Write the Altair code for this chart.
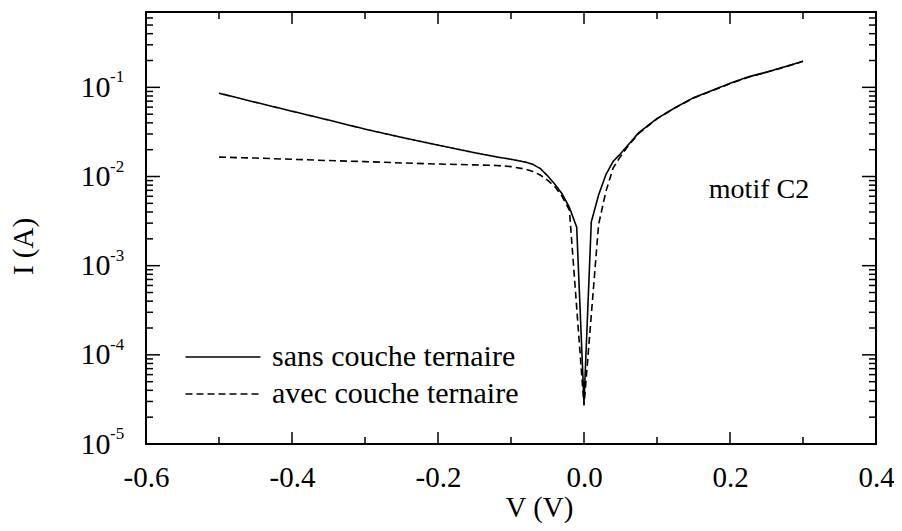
import altair as alt
import pandas as pd

# ---- data ----
V_sans = [-0.5, -0.45, -0.4, -0.35, -0.3, -0.25, -0.2, -0.15, -0.12, -0.1, -0.08, -0.07, -0.06,
          -0.05, -0.04, -0.03, -0.02, -0.01, 0.0,
          0.01, 0.02, 0.03, 0.04, 0.05, 0.06, 0.075, 0.1, 0.125, 0.15, 0.175, 0.2, 0.225, 0.25, 0.275, 0.3]
I_sans = [0.086, 0.068, 0.054, 0.043, 0.034, 0.0275, 0.0225, 0.0185, 0.0166, 0.0156, 0.0145, 0.0137, 0.0123,
          0.0102, 0.0082, 0.0064, 0.0045, 0.0027, 2.9e-5,
          0.0031, 0.0062, 0.0105, 0.0148, 0.018, 0.0224, 0.031, 0.0447, 0.0593, 0.0764, 0.092, 0.111, 0.131, 0.148, 0.170, 0.196]

V_avec = [-0.5, -0.45, -0.4, -0.35, -0.3, -0.25, -0.2, -0.15, -0.12, -0.1, -0.08, -0.07, -0.06,
          -0.05, -0.04, -0.03, -0.02, 0.0,
          0.02, 0.03, 0.04, 0.05, 0.06, 0.075, 0.1, 0.125, 0.15, 0.175, 0.2, 0.225, 0.25, 0.275, 0.3]
I_avec = [0.0165, 0.0161, 0.0156, 0.0151, 0.0147, 0.0142, 0.0138, 0.0135, 0.0133, 0.0129, 0.0121, 0.0114, 0.0104,
          0.0091, 0.0077, 0.0060, 0.0042, 2.7e-5,
          0.0029, 0.0068, 0.0125, 0.0168, 0.0218, 0.0305, 0.0443, 0.0590, 0.0760, 0.0915, 0.110, 0.130, 0.148, 0.169, 0.196]

series_names = ["sans couche ternaire", "avec couche ternaire"]

x_major = [-0.6, -0.4, -0.2, 0.0, 0.2, 0.4]
x_minor = [-0.5, -0.3, -0.1, 0.1, 0.3]
y_decades = [1e-5, 1e-4, 1e-3, 1e-2, 1e-1]
y_exponents = ["-5", "-4", "-3", "-2", "-1"]
y_minor = [m * d for d in [1e-5, 1e-4, 1e-3, 1e-2] for m in range(2, 10)] + [m * 1e-1 for m in range(2, 7)]

ann_x = [0.171]
ann_y = [0.0058]
ann_text = ["motif C2"]

# ---- layout / style ----
W, H = 730, 432
FONT = "Liberation Serif"
xscale = alt.Scale(domain=[-0.6, 0.4], nice=False, zero=False)
yscale = alt.Scale(type="log", domain=[1e-5, 0.7], nice=False)

lines_df = pd.concat([
    pd.DataFrame({"V": V_sans, "I": I_sans, "s": series_names[0]}),
    pd.DataFrame({"V": V_avec, "I": I_avec, "s": series_names[1]}),
])

lines = alt.Chart(lines_df).mark_line(color="black", strokeWidth=1.6, clip=True).encode(
    x=alt.X("V:Q", scale=xscale,
            axis=alt.Axis(values=x_major,
                          labelExpr="datum.value < 0 ? '-' + format(-datum.value, '.1f') : format(datum.value, '.1f')",
                          ticks=False, domain=False, grid=False,
                          labelFont=FONT, labelFontSize=29, labelColor="black", labelPadding=19,
                          title="V (V)", titleFont=FONT, titleFontSize=29, titleFontWeight="normal",
                          titleColor="black", titleX=393, titleY=72, titleBaseline="alphabetic",
                          labelFlush=False)),
    y=alt.Y("I:Q", scale=yscale,
            axis=alt.Axis(values=y_decades, labelExpr="'10'", ticks=False, domain=False, grid=False,
                          labelFont=FONT, labelFontSize=30, labelColor="black", labelPadding=36,
                          title="I (A)", titleFont=FONT, titleFontSize=29, titleFontWeight="normal",
                          titleColor="black", titleX=-123, titleY=234, titleBaseline="middle",
                          titleAlign="center", titleAngle=270)),
    strokeDash=alt.StrokeDash("s:N",
        scale=alt.Scale(domain=series_names, range=[[1, 0], [7, 4]]),
        legend=alt.Legend(orient="none", legendX=61, legendY=329, title=None, padding=0,
                          symbolType="M-2.5,0H2.5", symbolSize=900, symbolStrokeWidth=1.6,
                          symbolStrokeColor="black", symbolFillColor="transparent",
                          labelFont=FONT, labelFontSize=30,
                          labelColor="black", labelOffset=33, labelLimit=0, rowPadding=6)),
    detail="s:N",
)

xmaj_df = pd.DataFrame({"v": x_major})
xmin_df = pd.DataFrame({"v": x_minor})
ymaj_df = pd.DataFrame({"v": y_decades, "e": y_exponents})
ymin_df = pd.DataFrame({"v": y_minor})

def xticks(df, length):
    bottom = alt.Chart(df).mark_rule(color="black", strokeWidth=1.5).encode(
        x=alt.X("v:Q", scale=xscale), y=alt.value(H), y2=alt.value(H - length))
    top = alt.Chart(df).mark_rule(color="black", strokeWidth=1.5).encode(
        x=alt.X("v:Q", scale=xscale), y=alt.value(0), y2=alt.value(length))
    return [bottom, top]

def yticks(df, length):
    left = alt.Chart(df).mark_rule(color="black", strokeWidth=1.5).encode(
        y=alt.Y("v:Q", scale=yscale), x=alt.value(0), x2=alt.value(length))
    right = alt.Chart(df).mark_rule(color="black", strokeWidth=1.5).encode(
        y=alt.Y("v:Q", scale=yscale), x=alt.value(W - length), x2=alt.value(W))
    return [left, right]

exps = alt.Chart(ymaj_df).mark_text(font=FONT, fontSize=17, color="black", align="left",
                                    baseline="middle", dy=-10).encode(
    y=alt.Y("v:Q", scale=yscale), x=alt.value(-36), text="e:N")

ann = alt.Chart(pd.DataFrame({"x": ann_x, "y": ann_y, "t": ann_text})).mark_text(
    font=FONT, fontSize=28, color="black", align="left", baseline="alphabetic").encode(
    x=alt.X("x:Q", scale=xscale), y=alt.Y("y:Q", scale=yscale), text="t:N")

chart = alt.layer(
    lines,
    *xticks(xmaj_df, 12), *xticks(xmin_df, 7),
    *yticks(ymaj_df, 14), *yticks(ymin_df, 7),
    exps, ann,
).properties(
    width=W, height=H,
    autosize=alt.AutoSizeParams(type="none"),
    padding={"left": 138, "top": 4, "right": 18, "bottom": 79},
    background="white",
).configure_view(stroke="black", strokeWidth=2)

chart.save("out.html", embed_options={"renderer": "svg", "actions": False})
